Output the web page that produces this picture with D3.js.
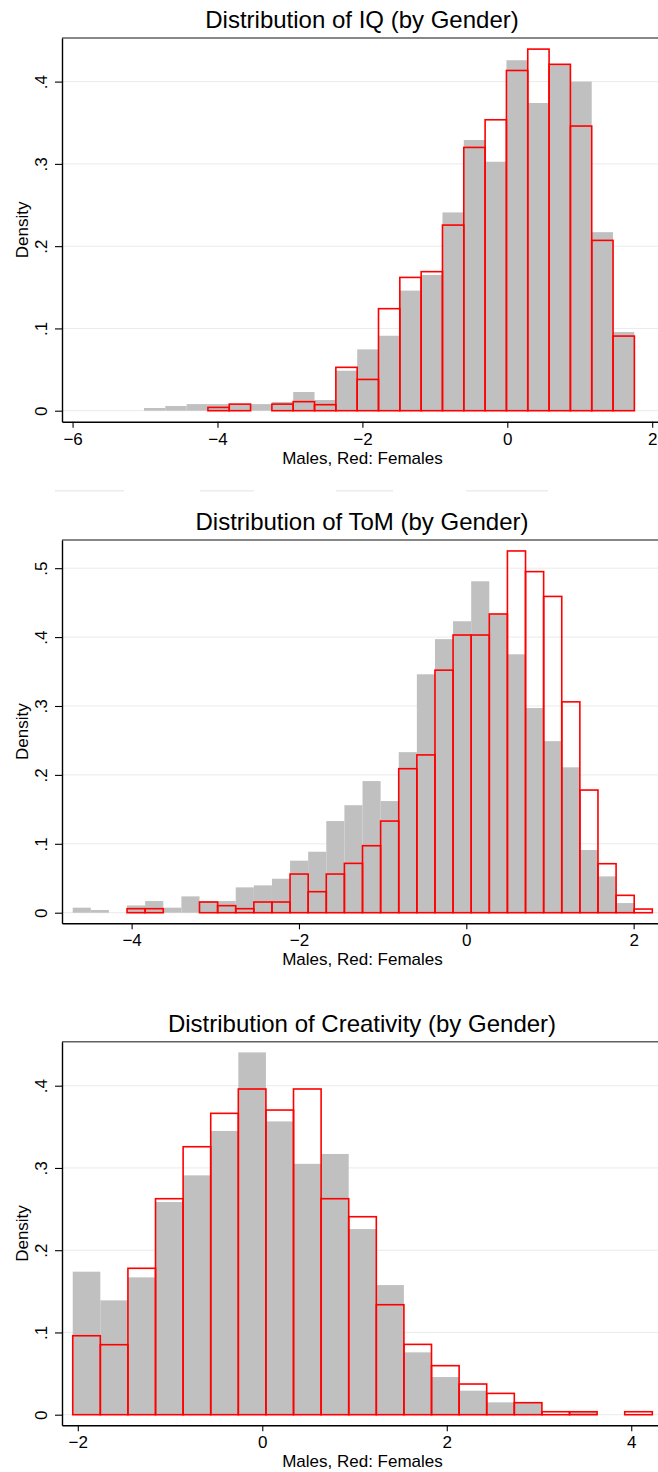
<!DOCTYPE html>
<html><head><meta charset="utf-8">
<script src="https://cdn.jsdelivr.net/npm/d3@7"></script>
<style>
body{margin:0;background:#fff}
svg{display:block}
text{font-family:"Liberation Sans",Arial,Helvetica,sans-serif;fill:#000}
</style></head><body>
<script>
// ---------- data ----------
const titles = ["Distribution of IQ (by Gender)", "Distribution of ToM (by Gender)", "Distribution of Creativity (by Gender)"];
const xAxisTitle = "Males, Red: Females";
const yAxisTitle = "Density";

// IQ histogram: 23 bins
const iqBinStart = -5.015, iqBinWidth = 0.2943;
const iqMales   = [0.0033,0.0057,0.008,0.008,0.008,0.008,0.0106,0.0227,0.013,0.0486,0.0745,0.0911,0.146,0.165,0.241,0.329,0.3026,0.426,0.374,0.421,0.400,0.217,0.0956];
const iqFemales = [0,0,0,0.004,0.008,0,0.008,0.011,0.0073,0.0527,0.038,0.124,0.162,0.169,0.2256,0.320,0.3536,0.4135,0.4395,0.421,0.346,0.207,0.0907];
const iqXTicks = [-6,-4,-2,0,2];
const iqYTicks = [0,0.1,0.2,0.3,0.4];

// ToM histogram: 32 bins
const tomBinStart = -4.704, tomBinWidth = 0.21647;
const tomMales   = [0.0073,0.0039,0,0.0106,0.0169,0.0073,0.0237,0.0169,0.0169,0.0368,0.0397,0.0493,0.0755,0.0885,0.133,0.156,0.191,0.162,0.233,0.346,0.397,0.423,0.481,0.433,0.375,0.297,0.249,0.211,0.091,0.0527,0.014,0];
const tomFemales = [0,0,0,0.0058,0.0058,0,0,0.0155,0.0102,0.0058,0.0155,0.0155,0.0561,0.0305,0.0561,0.0716,0.0972,0.133,0.209,0.229,0.352,0.403,0.403,0.4335,0.525,0.495,0.459,0.306,0.178,0.0711,0.0252,0.0053];
const tomXTicks = [-4,-2,0,2];
const tomYTicks = [0,0.1,0.2,0.3,0.4,0.5];

// Creativity histogram: 21 bins
const crBinStart = -2.055, crBinWidth = 0.2992;
const crMales   = [0.1739,0.139,0.167,0.2586,0.291,0.345,0.4405,0.3566,0.305,0.317,0.2257,0.1576,0.0758,0.0458,0.0292,0.015,0.0146,0,0.0045,0,0];
const crFemales = [0.096,0.0851,0.178,0.2626,0.3258,0.3664,0.396,0.3704,0.396,0.2626,0.2407,0.1337,0.0855,0.0596,0.0373,0.0259,0.0146,0.0036,0.0036,0,0.0036];
const crXTicks = [-2,0,2,4];
const crYTicks = [0,0.1,0.2,0.3,0.4];

// ---------- layout ----------
const W = 658, H = 1472;
const left = 62, right = 658;
const panels = [
  {title: titles[0], start: iqBinStart, width: iqBinWidth, males: iqMales, females: iqFemales, xTicks: iqXTicks, yTicks: iqYTicks,
   xDomain: [-6.146, 2.080], yDomain: [-0.01337, 0.4530], top: 38, bottom: 421.7, titleY: 28.3},
  {title: titles[1], start: tomBinStart, width: tomBinWidth, males: tomMales, females: tomFemales, xTicks: tomXTicks, yTicks: tomYTicks,
   xDomain: [-4.832, 2.291], yDomain: [-0.01538, 0.5409], top: 540, bottom: 923.3, titleY: 530},
  {title: titles[2], start: crBinStart, width: crBinWidth, males: crMales, females: crFemales, xTicks: crXTicks, yTicks: crYTicks,
   xDomain: [-2.1713, 4.290], yDomain: [-0.01289, 0.4535], top: 1041.7, bottom: 1425.3, titleY: 1031.7}
];

const svg = d3.select("body").append("svg").attr("width", W).attr("height", H);

// faint remnant lines between first and second panel
const ghostSegments = [[55,124],[200,254],[336,393],[466,548]];
svg.append("g").selectAll("line").data(ghostSegments).join("line")
  .attr("x1", d => d[0]).attr("x2", d => d[1]).attr("y1", 490.7).attr("y2", 490.7)
  .attr("stroke", "#ececec").attr("stroke-width", 1.5);

const yFmt = v => v === 0 ? "0" : d3.format(".1f")(v).replace(/^0/, "");
const xFmt = d3.format("d");

panels.forEach(p => {
  const x = d3.scaleLinear().domain(p.xDomain).range([left, right]);
  const y = d3.scaleLinear().domain(p.yDomain).range([p.bottom, p.top]);
  const g = svg.append("g");

  // gridlines
  g.append("g").selectAll("line").data(p.yTicks).join("line")
    .attr("x1", left).attr("x2", right)
    .attr("y1", d => y(d)).attr("y2", d => y(d))
    .attr("stroke", "#eaeaea").attr("stroke-width", 1);

  const bins = arr => arr.map((v, i) => ({x0: p.start + i * p.width, x1: p.start + (i + 1) * p.width, v})).filter(d => d.v > 0);

  // males: gray filled
  g.append("g").selectAll("rect").data(bins(p.males)).join("rect")
    .attr("x", d => x(d.x0)).attr("width", d => x(d.x1) - x(d.x0))
    .attr("y", d => y(d.v)).attr("height", d => y(0) - y(d.v))
    .attr("fill", "#c0c0c0");

  // females: red outline
  g.append("g").selectAll("rect").data(bins(p.females)).join("rect")
    .attr("x", d => x(d.x0)).attr("width", d => x(d.x1) - x(d.x0))
    .attr("y", d => y(d.v)).attr("height", d => y(0) - y(d.v))
    .attr("fill", "none").attr("stroke", "#ff0000").attr("stroke-width", 1.6);

  // top frame
  g.append("line").attr("x1", left).attr("x2", right).attr("y1", p.top).attr("y2", p.top)
    .attr("stroke", "#606060").attr("stroke-width", 1.5);

  // y axis
  const ya = g.append("g").attr("transform", `translate(${left},0)`)
    .call(d3.axisLeft(y).tickValues(p.yTicks).tickFormat(yFmt).tickSize(7).tickSizeOuter(0));
  ya.select(".domain").attr("stroke", "#000").attr("stroke-width", 1.4);
  ya.selectAll(".tick line").attr("stroke", "#000").attr("stroke-width", 1.1);
  ya.selectAll(".tick text")
    .attr("transform", "rotate(-90)").attr("x", 0).attr("y", -15).attr("dy", 0)
    .attr("text-anchor", "middle").style("font-size", "17px").style("font-family", '"Liberation Sans",Arial,sans-serif').attr("fill", "#000");

  // x axis
  const xa = g.append("g").attr("transform", `translate(0,${p.bottom})`)
    .call(d3.axisBottom(x).tickValues(p.xTicks).tickFormat(xFmt).tickSize(6).tickSizeOuter(0));
  xa.select(".domain").attr("stroke", "#000").attr("stroke-width", 1.4);
  xa.selectAll(".tick line").attr("stroke", "#000").attr("stroke-width", 1.1);
  xa.selectAll(".tick text").attr("y", 23).attr("dy", 0)
    .style("font-size", "17px").style("font-family", '"Liberation Sans",Arial,sans-serif').attr("fill", "#000");

  // titles
  g.append("text").attr("x", 362).attr("y", p.titleY).attr("text-anchor", "middle")
    .style("font-size", "24px").text(p.title);
  g.append("text").attr("x", 362.5).attr("y", p.bottom + 42).attr("text-anchor", "middle")
    .style("font-size", "17px").text(xAxisTitle);
  g.append("text").attr("transform", `translate(28,${(p.top + p.bottom) / 2}) rotate(-90)`)
    .attr("text-anchor", "middle").style("font-size", "17px").text(yAxisTitle);
});
</script>
</body></html>
